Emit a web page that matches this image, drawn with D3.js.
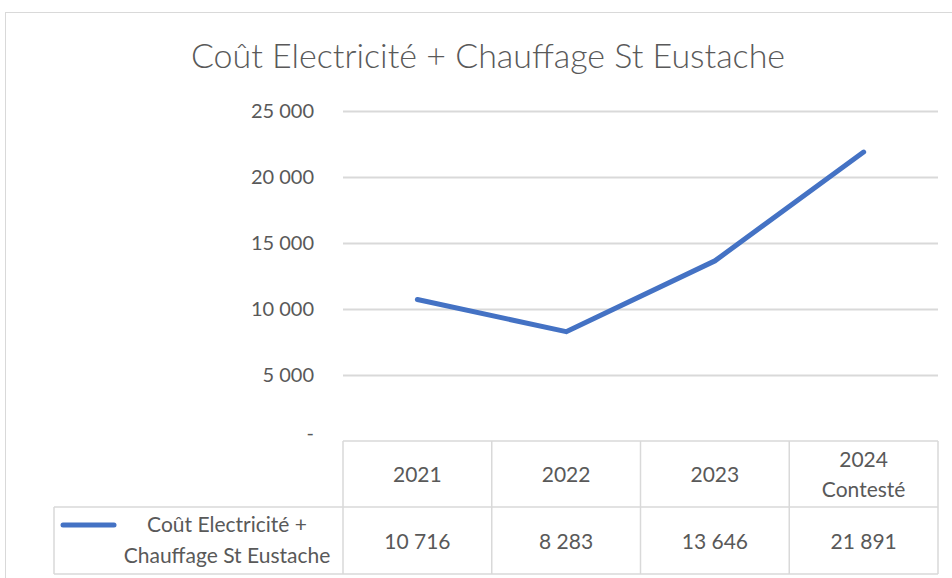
<!DOCTYPE html>
<html>
<head>
<meta charset="utf-8">
<script src="https://cdn.jsdelivr.net/npm/d3@7"></script>
<style>
  body { margin: 0; background: #fff; }
  text { font-family: Lato, "Open Sans", sans-serif; fill: #595959; }
</style>
</head>
<body>
<div id="chart"></div>
<script>
// Data
const categories = ['2021', '2022', '2023', '2024\nContesté']
const values = [10716, 8283, 13646, 21891]
const yTicks = [0, 5000, 10000, 15000, 20000, 25000]
const seriesName = 'Coût Electricité +\nChauffage St Eustache'
const title = 'Coût Electricité + Chauffage St Eustache'

const dataset = categories.map((c, i) => ({ cat: c, value: values[i] }))

function draw() {
  const width = 952
  const height = 578
  const plot = { left: 343, right: 938, top: 111, bottom: 441 }
  const table = { legendLeft: 54, rowSplit: 507, bottom: 574 }
  const gridColor = '#d9d9d9'

  const svg = d3.select('#chart')
    .append('svg')
    .attr('width', width)
    .attr('height', height)

  // outer frame
  svg.append('rect')
    .attr('x', 5.5)
    .attr('y', 12.5)
    .attr('width', 960)
    .attr('height', 600)
    .attr('fill', 'none')
    .attr('stroke', gridColor)

  svg.append('text')
    .text(title)
    .attr('x', 488)
    .attr('y', 68)
    .attr('text-anchor', 'middle')
    .style('font-size', '34px')
    .style('font-weight', 300)

  // Scales
  const xScale = d3.scaleBand()
    .domain(categories)
    .range([plot.left, plot.right])

  const yScale = d3.scaleLinear()
    .domain([0, 25000])
    .range([plot.bottom, plot.top])

  const fmt = (d) => d === 0 ? '-' : d3.format(',')(d).replace(/,/g, ' ')

  // Gridlines + y labels
  const yAxis = d3.axisLeft(yScale)
    .tickValues(yTicks)
    .tickSize(-(plot.right - plot.left))
    .tickPadding(29)
    .tickFormat(fmt)

  const yAxisGroup = svg.append('g')
    .attr('transform', `translate(${plot.left}, 0)`)
    .call(yAxis)
  yAxisGroup.select('.domain').remove()
  yAxisGroup.selectAll('.tick line')
    .attr('stroke', gridColor)
    .attr('stroke-width', 2)
    .filter(d => d === 0).remove()
  yAxisGroup.selectAll('.tick text')
    .style('font-size', '20px')
    .style('font-family', 'Lato, sans-serif')
    .attr('fill', '#595959')
    .attr('dy', d => d === 0 ? '-0.1em' : '0.34em')

  // Data table grid
  const tg = svg.append('g')
    .attr('stroke', gridColor)
    .attr('stroke-width', 1.5)
    .attr('fill', 'none')

  const bounds = categories.map(c => xScale(c)).concat([plot.right])
  tg.selectAll('line.v')
    .data(bounds)
    .join('line')
    .attr('x1', d => d).attr('x2', d => d)
    .attr('y1', plot.bottom).attr('y2', table.bottom)

  tg.append('line')
    .attr('x1', plot.left).attr('x2', plot.right)
    .attr('y1', plot.bottom).attr('y2', plot.bottom)
  tg.append('line')
    .attr('x1', table.legendLeft).attr('x2', plot.right)
    .attr('y1', table.rowSplit).attr('y2', table.rowSplit)
  tg.append('line')
    .attr('x1', table.legendLeft).attr('x2', plot.right)
    .attr('y1', table.bottom).attr('y2', table.bottom)
  tg.append('line')
    .attr('x1', table.legendLeft).attr('x2', table.legendLeft)
    .attr('y1', table.rowSplit).attr('y2', table.bottom)

  // Header labels
  const headerMid = (plot.bottom + table.rowSplit) / 2
  svg.append('g')
    .selectAll('text')
    .data(categories)
    .join('text')
    .attr('x', d => xScale(d) + xScale.bandwidth() / 2)
    .attr('text-anchor', 'middle')
    .style('font-size', '21px')
    .each(function (d) {
      const lines = d.split('\n')
      const el = d3.select(this)
      lines.forEach((l, i) => {
        el.append('tspan')
          .attr('x', xScale(d) + xScale.bandwidth() / 2)
          .attr('y', headerMid + 8 + (i - (lines.length - 1) / 2) * 30)
          .text(l)
      })
    })

  // Values row
  const valueMid = (table.rowSplit + table.bottom) / 2
  svg.append('g')
    .selectAll('text')
    .data(dataset)
    .join('text')
    .attr('x', d => xScale(d.cat) + xScale.bandwidth() / 2)
    .attr('y', valueMid + 8)
    .attr('text-anchor', 'middle')
    .style('font-size', '21px')
    .text(d => fmt(d.value))

  // Legend key + series name
  svg.append('line')
    .attr('x1', 63).attr('x2', 114)
    .attr('y1', 525).attr('y2', 525)
    .attr('stroke', '#4472C4')
    .attr('stroke-width', 5)
    .attr('stroke-linecap', 'round')

  const nameLines = seriesName.split('\n')
  svg.append('text')
    .attr('text-anchor', 'middle')
    .style('font-size', '21px')
    .selectAll('tspan')
    .data(nameLines)
    .join('tspan')
    .attr('x', 227)
    .attr('y', (d, i) => 532 + i * 31)
    .text(d => d)

  // Line
  const line = d3.line()
    .x(d => xScale(d.cat) + xScale.bandwidth() / 2)
    .y(d => yScale(d.value))

  svg.append('path')
    .datum(dataset)
    .attr('d', line)
    .attr('fill', 'none')
    .attr('stroke', '#4472C4')
    .attr('stroke-width', 5)
    .attr('stroke-linecap', 'round')
    .attr('stroke-linejoin', 'round')
}

draw()
</script>
</body>
</html>
